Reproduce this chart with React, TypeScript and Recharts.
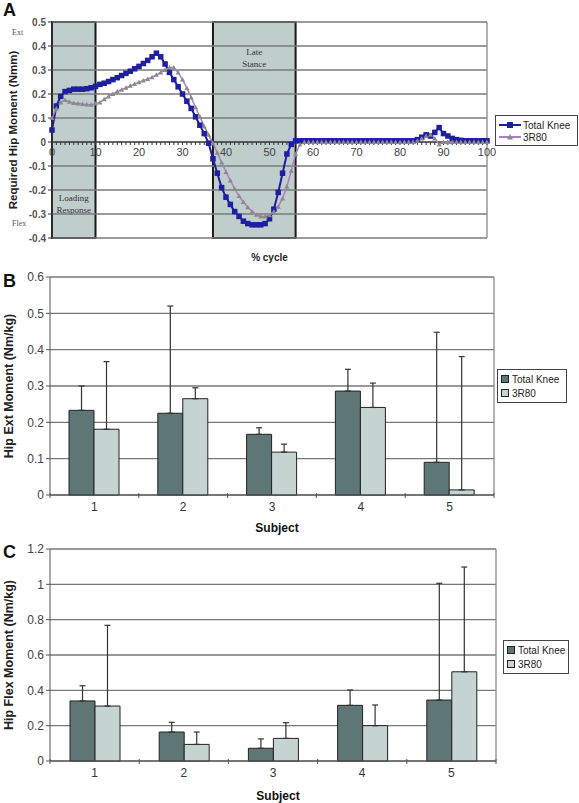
import React from "react";
import {
  LineChart,
  Line,
  BarChart,
  Bar,
  XAxis,
  YAxis,
  CartesianGrid,
  Legend,
  Label,
  ReferenceArea,
  ReferenceLine,
  ReferenceDot,
  ErrorBar,
} from "recharts";

const SANS = '"Liberation Sans", Arial, sans-serif';
const SERIF = '"Liberation Serif", "Times New Roman", serif';

// ---- panel A: required hip moment over the gait cycle ----
const cyclePct = [
  0, 1, 2, 3, 4, 5, 6, 7, 8, 9, 10, 11, 12, 13, 14, 15, 16, 17, 18, 19, 20,
  21, 22, 23, 24, 25, 26, 27, 28, 29, 30, 31, 32, 33, 34, 35, 36, 37, 38, 39, 40,
  41, 42, 43, 44, 45, 46, 47, 48, 49, 50, 51, 52, 53, 54, 55, 56, 57, 58, 59, 60,
  61, 62, 63, 64, 65, 66, 67, 68, 69, 70, 71, 72, 73, 74, 75, 76, 77, 78, 79, 80,
  81, 82, 83, 84, 85, 86, 87, 88, 89, 90, 91, 92, 93, 94, 95, 96, 97, 98, 99, 100,
];

const totalKneeMoment = [
  0.05, 0.15, 0.19, 0.21, 0.215, 0.22, 0.22, 0.22, 0.222, 0.226, 0.232,
  0.24, 0.245, 0.252, 0.26, 0.268, 0.277, 0.286, 0.295, 0.305, 0.315,
  0.327, 0.34, 0.355, 0.37, 0.355, 0.325, 0.29, 0.26, 0.23, 0.2,
  0.17, 0.14, 0.105, 0.07, 0.035, -0.005, -0.07, -0.13, -0.19, -0.23,
  -0.26, -0.29, -0.31, -0.33, -0.34, -0.345, -0.345, -0.345, -0.34, -0.32,
  -0.28, -0.21, -0.13, -0.05, -0.01, 0.005, 0.005, 0.005, 0.005, 0.005,
  0.005, 0.005, 0.005, 0.005, 0.005, 0.005, 0.005, 0.005, 0.005, 0.005,
  0.005, 0.005, 0.005, 0.005, 0.005, 0.005, 0.005, 0.005, 0.005, 0.005,
  0.005, 0.005, 0.005,
  0.01, 0.02, 0.03, 0.025, 0.04, 0.06, 0.035, 0.025, 0.015, 0.01, 0.007,
  0.005, 0.005, 0.005, 0.005, 0.005, 0.005,
];

const r80Moment = [
  0.1, 0.14, 0.165, 0.175, 0.168, 0.162, 0.16, 0.158, 0.156, 0.155, 0.16,
  0.165, 0.178, 0.19, 0.2, 0.21, 0.218, 0.226, 0.234, 0.242, 0.249,
  0.256, 0.263, 0.27, 0.28, 0.29, 0.3, 0.31, 0.31, 0.29, 0.26,
  0.225, 0.185, 0.145, 0.105, 0.065, 0.03, -0.005, -0.045, -0.085, -0.125,
  -0.16, -0.195, -0.225, -0.25, -0.272, -0.29, -0.303, -0.31, -0.31, -0.305,
  -0.29, -0.27, -0.235, -0.185, -0.12, -0.05, -0.01, 0, 0, 0,
  0, 0, 0, 0, 0, 0, 0, 0, 0, 0,
  0, 0, 0, 0, 0, 0, 0, 0, 0, 0,
  0, 0, 0,
  0.005, 0.015, 0.025, 0.03, 0.015, -0.01, 0,
  0, 0, 0, 0, 0, 0, 0, 0, 0, 0,
];

const momentTicks = [-0.4, -0.3, -0.2, -0.1, 0, 0.1, 0.2, 0.3, 0.4, 0.5];
const cycleTicks = [0, 10, 20, 30, 40, 50, 60, 70, 80, 90, 100];

const phases = [
  { from: 0, to: 10, text: ["Loading", "Response"], at: "bottom" },
  { from: 37, to: 56, text: ["Late", "Stance"], at: "top" },
];

// ---- panels B and C: per subject peaks (upper ends are the error bar tips) ----
const subjects = ["1", "2", "3", "4", "5"];
const seriesNames = ["Total Knee", "3R80"];

const extTotalKnee = [0.233, 0.225, 0.167, 0.286, 0.09];
const extTotalKneeTop = [0.3, 0.52, 0.185, 0.346, 0.448];
const ext3R80 = [0.181, 0.265, 0.118, 0.241, 0.014];
const ext3R80Top = [0.367, 0.295, 0.14, 0.308, 0.381];
const extTicks = [0, 0.1, 0.2, 0.3, 0.4, 0.5, 0.6];

const flexTotalKnee = [0.34, 0.164, 0.072, 0.315, 0.345];
const flexTotalKneeTop = [0.426, 0.219, 0.125, 0.402, 1.006];
const flex3R80 = [0.311, 0.094, 0.128, 0.2, 0.505];
const flex3R80Top = [0.768, 0.164, 0.217, 0.317, 1.098];
const flexTicks = [0, 0.2, 0.4, 0.6, 0.8, 1, 1.2];

const BLUE = "#1e1ea0";
const PURPLE = "#b07cc2";
const TRI_GRAY = "#8a8a8a";
const DARK_BAR = "#5f7676";
const LIGHT_BAR = "#c6d3d3";
const SHADE = "#c0cdcd";

const TICK_SIZE = 4;
const TICK_MARGIN = 3;

const gaitData = cyclePct.map((c, i) => ({
  cycle: c,
  tk: totalKneeMoment[i],
  r80: r80Moment[i],
}));

const buildBars = (tk: number[], tkTop: number[], r80: number[], r80Top: number[]) =>
  subjects.map((s, i) => ({
    subject: s,
    tk: tk[i],
    tkErr: [0, tkTop[i] - tk[i]],
    r80: r80[i],
    r80Err: [0, r80Top[i] - r80[i]],
  }));

const extData = buildBars(extTotalKnee, extTotalKneeTop, ext3R80, ext3R80Top);
const flexData = buildBars(flexTotalKnee, flexTotalKneeTop, flex3R80, flex3R80Top);

const orderPayload = (payload: any[]) =>
  [...(payload || [])].sort(
    (a, b) => seriesNames.indexOf(a.value) - seriesNames.indexOf(b.value)
  );

// square marker for Total Knee
const SquareDot = (props: any) => {
  const { cx, cy } = props;
  if (cx == null || cy == null) return null;
  return <rect x={cx - 2.75} y={cy - 2.75} width={5.5} height={5.5} fill={BLUE} />;
};

// small triangle marker for 3R80
const TriangleDot = (props: any) => {
  const { cx, cy } = props;
  if (cx == null || cy == null) return null;
  return <path d={`M${cx},${cy - 2.5}L${cx + 2.5},${cy + 2}L${cx - 2.5},${cy + 2}Z`} fill={TRI_GRAY} />;
};

// minor tick on the zero line
const MinorTick = (props: any) => {
  const { cx, cy } = props;
  if (cx == null || cy == null) return null;
  return <line x1={cx} y1={cy} x2={cx} y2={cy + 3} stroke="#333" strokeWidth={1} />;
};

// % cycle numbers sit under the zero line
const CycleLabel = (props: any) => {
  const { cx, cy, value } = props;
  if (cx == null || cy == null) return null;
  return (
    <text x={cx} y={cy + 14} textAnchor="middle" fontFamily={SANS} fontSize={11} fill="#444">
      {value}
    </text>
  );
};

const PhaseLabel = (props: any) => {
  const { viewBox, text, at } = props;
  if (!viewBox) return null;
  const { x, y, width, height } = viewBox;
  const cx = x + width / 2;
  const startY = at === "top" ? y + 33 : y + height - 37;
  return (
    <text x={cx} y={startY} textAnchor="middle" fontFamily={SERIF} fontSize={9} fill="#333">
      {text.map((t: string, i: number) => (
        <tspan key={t} x={cx} dy={i === 0 ? 0 : 12}>
          {t}
        </tspan>
      ))}
    </text>
  );
};

const LineLegend = ({ payload }: any) => (
  <div
    style={{
      border: "1px solid #444",
      background: "#fff",
      width: 83,
      boxSizing: "border-box",
      padding: "3px 0 2px 2px",
      fontFamily: SANS,
      fontSize: 10,
      color: "#222",
      whiteSpace: "nowrap",
    }}
  >
    {orderPayload(payload).map((e: any) => (
      <div key={e.value} style={{ display: "flex", alignItems: "center", height: 12 }}>
        <svg width={24} height={10} style={{ marginRight: 1 }}>
          <line x1={1} y1={5} x2={23} y2={5} stroke={e.color} strokeWidth={2} />
          {e.value === seriesNames[0] ? (
            <rect x={9} y={2} width={6} height={6} fill={e.color} />
          ) : (
            <path d="M12,2L15,7.5L9,7.5Z" fill={TRI_GRAY} />
          )}
        </svg>
        <span>{e.value}</span>
      </div>
    ))}
  </div>
);

const BarLegend = ({ payload, width }: any) => (
  <div
    style={{
      border: "1px solid #444",
      background: "#fff",
      width,
      boxSizing: "border-box",
      padding: "2px 0 2px 3px",
      fontFamily: SANS,
      fontSize: 10,
      color: "#222",
      whiteSpace: "nowrap",
    }}
  >
    {orderPayload(payload).map((e: any) => (
      <div key={e.value} style={{ display: "flex", alignItems: "center", height: 14 }}>
        <span
          style={{
            display: "inline-block",
            flex: "none",
            width: 6,
            height: 6,
            background: e.color,
            border: "1px solid #222",
            marginRight: 3,
          }}
        />
        <span>{e.value}</span>
      </div>
    ))}
  </div>
);

// category label plus Excel style ticks on the category boundaries
const SubjectTick = (props: any) => {
  const { x, y, payload, index, count } = props;
  const half = payload && payload.offset ? payload.offset : 0;
  const axisY = y - TICK_SIZE - TICK_MARGIN;
  return (
    <g>
      <line x1={x - half} y1={axisY - 2} x2={x - half} y2={axisY + 3} stroke="#555" />
      {index === count - 1 && (
        <line x1={x + half} y1={axisY - 2} x2={x + half} y2={axisY + 3} stroke="#555" />
      )}
      <text x={x} y={y} dy="0.71em" textAnchor="middle" fontFamily={SANS} fontSize={12} fill="#333">
        {payload.value}
      </text>
    </g>
  );
};

const GaitChart = () => (
  <LineChart
    width={579}
    height={270}
    data={gaitData}
    margin={{ top: 22, right: 92, left: 6, bottom: 2 }}
    style={{ fontFamily: SANS }}
  >
    <XAxis
      dataKey="cycle"
      type="number"
      domain={[0, 100]}
      ticks={cycleTicks}
      tick={false}
      tickLine={false}
      axisLine={false}
      height={30}
    >
      <Label
        value="% cycle"
        position="insideBottom"
        offset={7}
        style={{ fontWeight: "bold", fontSize: 10, fill: "#222", fontFamily: SANS }}
      />
    </XAxis>
    <YAxis
      type="number"
      domain={[-0.4, 0.5]}
      ticks={momentTicks}
      width={46}
      tickSize={4}
      tick={{ fontSize: 10, fontWeight: "bold", fill: "#555", fontFamily: SANS }}
      axisLine={{ stroke: "#333", strokeWidth: 1.5 }}
      tickLine={{ stroke: "#333" }}
      allowDataOverflow
    >
      <Label
        value="Required Hip Moment (Nmm)"
        angle={-90}
        position="insideLeft"
        offset={7}
        style={{ textAnchor: "middle", fontWeight: "bold", fontSize: 11.5, fill: "#222", fontFamily: SANS }}
      />
    </YAxis>

    {phases.map((p) => (
      <ReferenceArea
        key={p.from}
        x1={p.from}
        x2={p.to}
        fill={SHADE}
        fillOpacity={1}
        stroke="#1a1a1a"
        strokeWidth={2}
        label={<PhaseLabel text={p.text} at={p.at} />}
      />
    ))}
    {momentTicks
      .filter((t) => t !== 0)
      .map((t) => (
        <ReferenceLine key={t} y={t} stroke="#7a7a7a" strokeWidth={1.3} />
      ))}
    <ReferenceLine x={100} stroke="#8a8a8a" strokeWidth={1.3} />
    <ReferenceLine y={0} stroke="#333" strokeWidth={1.5} />
    {cyclePct.map((c) => (
      <ReferenceDot key={`m${c}`} x={c} y={0} r={1} shape={<MinorTick />} />
    ))}
    {cycleTicks.map((c) => (
      <ReferenceDot key={`l${c}`} x={c} y={0} r={1} shape={<CycleLabel value={c} />} />
    ))}

    <Line
      dataKey="tk"
      name="Total Knee"
      type="linear"
      stroke={BLUE}
      strokeWidth={2}
      dot={<SquareDot />}
      activeDot={false}
      isAnimationActive={false}
    />
    <Line
      dataKey="r80"
      name="3R80"
      type="linear"
      stroke={PURPLE}
      strokeWidth={1.5}
      dot={<TriangleDot />}
      activeDot={false}
      isAnimationActive={false}
    />
    <Legend
      layout="vertical"
      align="center"
      verticalAlign="middle"
      wrapperStyle={{ left: 495, top: 115, width: 83 }}
      content={<LineLegend />}
    />
  </LineChart>
);

const MomentBars = ({ data, ticks, yLabel, height, top, right, axisHeight, legendLeft, legendTop, legendWidth }: any) => (
  <BarChart
    width={579}
    height={height}
    data={data}
    margin={{ top, right, left: 0, bottom: 0 }}
    barGap={0}
    barSize={25}
    style={{ fontFamily: SANS }}
  >
    <CartesianGrid vertical={false} stroke="#777" strokeWidth={1.3} />
    <XAxis
      dataKey="subject"
      height={axisHeight}
      tickLine={false}
      tickSize={TICK_SIZE}
      tickMargin={TICK_MARGIN}
      axisLine={{ stroke: "#555" }}
      tick={<SubjectTick count={data.length} />}
    >
      <Label
        value="Subject"
        position="insideBottom"
        offset={3}
        dx={5}
        style={{ fontWeight: "bold", fontSize: 12, fill: "#111", fontFamily: SANS }}
      />
    </XAxis>
    <YAxis
      type="number"
      domain={[ticks[0], ticks[ticks.length - 1]]}
      ticks={ticks}
      width={50}
      tickSize={4}
      tick={{ fontSize: 12, fill: "#444", fontFamily: SANS }}
      axisLine={{ stroke: "#555" }}
      tickLine={{ stroke: "#555" }}
    >
      <Label
        value={yLabel}
        angle={-90}
        position="insideLeft"
        offset={9}
        style={{ textAnchor: "middle", fontWeight: "bold", fontSize: 12.5, fill: "#222", fontFamily: SANS }}
      />
    </YAxis>
    <YAxis
      yAxisId="frame"
      orientation="right"
      width={1}
      tick={false}
      tickLine={false}
      axisLine={{ stroke: "#8a8a8a", strokeWidth: 1.3 }}
    />
    <Bar dataKey="tk" name="Total Knee" fill={DARK_BAR} stroke="#222" strokeWidth={1} isAnimationActive={false}>
      <ErrorBar dataKey="tkErr" direction="y" width={3} stroke="#333" strokeWidth={1.2} isAnimationActive={false} />
    </Bar>
    <Bar dataKey="r80" name="3R80" fill={LIGHT_BAR} stroke="#222" strokeWidth={1} isAnimationActive={false}>
      <ErrorBar dataKey="r80Err" direction="y" width={3} stroke="#333" strokeWidth={1.2} isAnimationActive={false} />
    </Bar>
    <Legend
      layout="vertical"
      align="center"
      verticalAlign="middle"
      wrapperStyle={{ left: legendLeft, top: legendTop, width: legendWidth }}
      content={<BarLegend width={legendWidth} />}
    />
  </BarChart>
);

const panelLetter = (letter: string, top: number) => (
  <div
    style={{
      position: "absolute",
      left: 3,
      top,
      fontFamily: SANS,
      fontWeight: "bold",
      fontSize: 18,
      lineHeight: "18px",
      color: "#111",
    }}
  >
    {letter}
  </div>
);

const sideNote = (text: string, top: number) => (
  <div
    style={{
      position: "absolute",
      left: 12,
      top,
      fontFamily: SERIF,
      fontSize: 8,
      lineHeight: "10px",
      color: "#555",
    }}
  >
    {text}
  </div>
);

export default function App() {
  return (
    <div
      style={{
        position: "absolute",
        left: 0,
        top: 0,
        width: 579,
        height: 803,
        overflow: "hidden",
        background: "#fff",
      }}
    >
      <div style={{ position: "absolute", left: 0, top: 0 }}>
        <GaitChart />
      </div>
      <div style={{ position: "absolute", left: 0, top: 265 }}>
        <MomentBars
          data={extData}
          ticks={extTicks}
          yLabel="Hip Ext Moment (Nm/kg)"
          height={270}
          top={12}
          right={84}
          axisHeight={40}
          legendLeft={497}
          legendTop={104}
          legendWidth={70}
        />
      </div>
      <div style={{ position: "absolute", left: 0, top: 537 }}>
        <MomentBars
          data={flexData}
          ticks={flexTicks}
          yLabel="Hip Flex Moment (Nm/kg)"
          height={266}
          top={12}
          right={82}
          axisHeight={42}
          legendLeft={503}
          legendTop={103}
          legendWidth={66}
        />
      </div>
      {panelLetter("A", 1)}
      {panelLetter("B", 272)}
      {panelLetter("C", 543)}
      {sideNote("Ext", 28)}
      {sideNote("Flex", 219)}
    </div>
  );
}
